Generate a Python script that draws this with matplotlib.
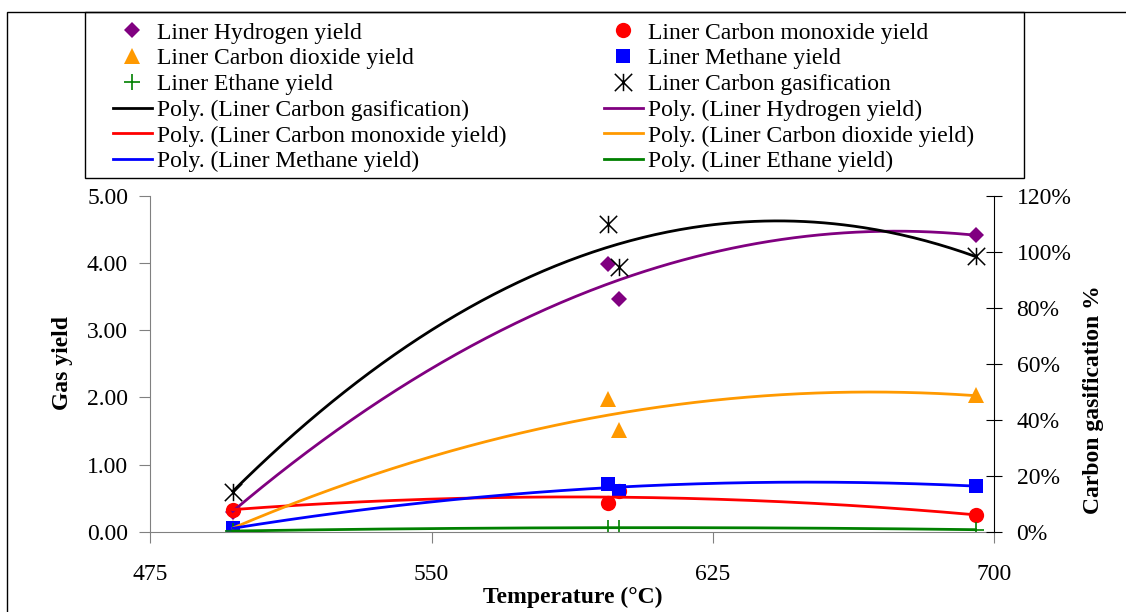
import numpy as np
import matplotlib.pyplot as plt
from matplotlib.path import Path
from matplotlib.patches import Rectangle
from matplotlib.ticker import FuncFormatter, PercentFormatter

plt.rcParams["font.family"] = ["Liberation Serif", "DejaVu Serif"]
plt.rcParams["font.size"] = 17

# Temperature (C) of each run
temperature = [497, 597, 600, 695]

# Gas yields (left axis)
hydrogen = [0.30, 3.98, 3.46, 4.42]
carbon_monoxide = [0.33, 0.43, 0.60, 0.25]
carbon_dioxide = [0.05, 1.98, 1.52, 2.03]
methane = [0.05, 0.71, 0.61, 0.68]
ethane = [0.01, 0.06, 0.06, 0.03]

# Carbon gasification (right axis, fraction)
carbon_gasification = [0.143, 1.10, 0.946, 0.985]

W, H = 1126, 612
fig = plt.figure(figsize=(W / 100, H / 100), dpi=100)

# axes box in pixels: left 150, right 994, top 196, bottom 532
ax = fig.add_axes([150.3 / W, 1 - 531.7 / H, 844 / W, 335.7 / H])
ax2 = ax.twinx()

asterisk = Path([(-1, -1), (1, 1), (-1, 1), (1, -1), (0, -1), (0, 1)],
                [Path.MOVETO, Path.LINETO] * 3)

series = [
    ("Hydrogen", hydrogen, "#800080", "D", 8.5),
    ("Carbon monoxide", carbon_monoxide, "#FF0000", "o", 11),
    ("Carbon dioxide", carbon_dioxide, "#FF9900", "^", 12),
    ("Methane", methane, "#0000FF", "s", 10.5),
    ("Ethane", ethane, "#008000", "+", 11),
]

t = np.array(temperature, dtype=float)
xs = np.linspace(t.min(), t.max(), 300)

marker_handles = {}
line_handles = {}
for name, vals, color, mk, ms in series:
    h, = ax.plot(t, vals, linestyle="none", marker=mk, ms=ms, color=color,
                 mew=1.2 if mk == "+" else 0, zorder=2)
    marker_handles[name] = h
# 2nd order polynomial trendlines, as in the spreadsheet
for name, vals, color, mk, ms in series:
    coef = np.polyfit(t, vals, 2)
    l, = ax.plot(xs, np.polyval(coef, xs), color=color, lw=2, zorder=3)
    line_handles[name] = l

cg_marker, = ax2.plot(t, carbon_gasification, linestyle="none", marker=asterisk,
                      ms=12.5, mfc="none", mec="black", mew=1.1)
coef = np.polyfit(t, carbon_gasification, 2)
cg_line, = ax2.plot(xs, np.polyval(coef, xs), color="black", lw=2)

# axes styling
ax.set_xlim(475, 700)
ax.set_xticks([475, 550, 625, 700])
ax.set_ylim(0, 5)
ax.set_yticks(np.arange(0, 5.01, 1))
ax.yaxis.set_major_formatter(FuncFormatter(lambda v, p: f"{v:.2f}"))
ax2.set_ylim(0, 1.2)
ax2.set_yticks(np.arange(0, 1.21, 0.2))
ax2.yaxis.set_major_formatter(PercentFormatter(1.0, decimals=0))

for a in (ax, ax2):
    a.spines["top"].set_visible(False)
    a.patch.set_visible(False)
ax.spines["left"].set_color("#808080")
ax.spines["bottom"].set_color("#808080")
ax.spines["right"].set_visible(False)
ax2.spines["left"].set_visible(False)
ax2.spines["bottom"].set_visible(False)
ax2.spines["right"].set_color("black")

ax.tick_params(axis="y", direction="out", length=8, color="#808080", pad=8)
ax.tick_params(axis="x", direction="out", length=8, color="#808080", pad=15)
ax2.tick_params(axis="y", direction="inout", length=12, color="black", pad=10)

ax.set_xlabel("Temperature (\u00b0C)", fontweight="bold")
ax.xaxis.set_label_coords(0.5, -0.163)
ax.set_ylabel("Gas yield", fontweight="bold", va="center")
ax.yaxis.set_label_coords(-0.1046, 0.5025)
ax2.set_ylabel("Carbon gasification %", fontweight="bold", va="center")
ax2.yaxis.set_label_coords(1.117, 0.392)

# legend, two columns (row-wise order like the original)
col1 = [
    (marker_handles["Hydrogen"], "Liner Hydrogen yield"),
    (marker_handles["Carbon dioxide"], "Liner Carbon dioxide yield"),
    (marker_handles["Ethane"], "Liner Ethane yield"),
    (cg_line, "Poly. (Liner Carbon gasification)"),
    (line_handles["Carbon monoxide"], "Poly. (Liner Carbon monoxide yield)"),
    (line_handles["Methane"], "Poly. (Liner Methane yield)"),
]
col2 = [
    (marker_handles["Carbon monoxide"], "Liner Carbon monoxide yield"),
    (marker_handles["Methane"], "Liner Methane yield"),
    (cg_marker, "Liner Carbon gasification"),
    (line_handles["Hydrogen"], "Poly. (Liner Hydrogen yield)"),
    (line_handles["Carbon dioxide"], "Poly. (Liner Carbon dioxide yield)"),
    (line_handles["Ethane"], "Poly. (Liner Ethane yield)"),
]
for col, x0 in ((col1, 113), (col2, 604)):
    hs, ls = zip(*col)
    fig.legend(hs, ls, loc="upper left", bbox_to_anchor=(x0 / W, 1 - 22 / H),
               frameon=False, borderpad=0, borderaxespad=0, handlelength=1.65,
               handletextpad=0.22, labelspacing=0.18, fontsize=17, numpoints=1)

# legend frame and chart area border
fig.add_artist(Rectangle((85 / W, 1 - 178 / H), 939 / W, 166 / H,
                         transform=fig.transFigure, fill=False,
                         edgecolor="black", lw=1))
fig.add_artist(Rectangle((6.7 / W, -0.1), 1.2, 1.1 - 12.3 / H,
                         transform=fig.transFigure, fill=False,
                         edgecolor="black", lw=1, clip_on=False))

fig.savefig("out.png", dpi=100)
